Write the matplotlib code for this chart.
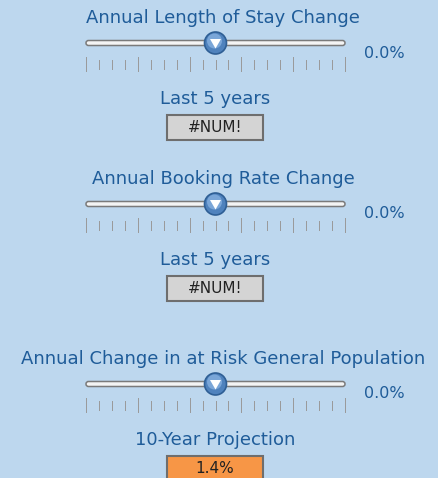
import matplotlib.pyplot as plt
from matplotlib.patches import FancyBboxPatch, Rectangle, Circle, Polygon

# slider panels
titles = ["Annual Length of Stay Change", "Annual Booking Rate Change",
          "Annual Change in at Risk General Population"]
slider_values = [0.0, 0.0, 0.0]          # percent shown right of slider
thumb_pos = [0.5, 0.5, 0.5]              # relative position on slider
sub_labels = ["Last 5 years", "Last 5 years", "10-Year Projection"]
box_texts = ["#NUM!", "#NUM!", "1.4%"]
box_colors = ["#d4d4d4", "#d4d4d4", "#f79646"]

title_y = [18, 179, 359]
bg = "#bdd7ee"
txt = "#1f5c99"

fig = plt.figure(figsize=(4.38, 4.78), dpi=100, facecolor=bg)
ax = fig.add_axes([0, 0, 1, 1])
ax.set_xlim(0, 438)
ax.set_ylim(478, 0)
ax.axis('off')
ax.set_facecolor(bg)

x0, x1 = 86, 345
n_ticks = 21

for i in range(3):
    ty = title_y[i]
    ax.text(223, ty, titles[i], ha='center', va='center', fontsize=13, color=txt)

    sy = ty + 25
    # track
    ax.add_patch(FancyBboxPatch((x0, sy - 2.5), x1 - x0, 5,
                                boxstyle="round,pad=0,rounding_size=2.5",
                                fc="#f4f4f4", ec="#7a7a7a", lw=1.1, zorder=2))
    # ticks
    for k in range(n_ticks):
        tx = x0 + (x1 - x0) * k / (n_ticks - 1)
        if k % 4 == 0:
            ax.plot([tx, tx], [sy + 14, sy + 28], color="#999999", lw=0.7)
        else:
            ax.plot([tx, tx], [sy + 17, sy + 26], color="#999999", lw=0.7)
    # thumb
    cx = x0 + (x1 - x0) * thumb_pos[i]
    ax.add_patch(Circle((cx, sy), 11, fc="#4f82bd", ec="#2f5f95", lw=1.2, zorder=3))
    ax.add_patch(Circle((cx - 1, sy - 2), 7.5, fc="#7aa6d8", ec="none", zorder=3))
    ax.add_patch(Polygon([[cx - 5.5, sy - 4], [cx + 5.5, sy - 4], [cx, sy + 5.5]],
                         closed=True, fc="white", ec="none", zorder=4))

    ax.text(384, sy + 10, "%.1f%%" % slider_values[i], ha='center', va='center',
            fontsize=11.5, color=txt)

    ly = ty + 81
    ax.text(215, ly, sub_labels[i], ha='center', va='center', fontsize=13, color=txt)

    by = ly + 16
    ax.add_patch(Rectangle((167, by), 96, 25, fc=box_colors[i], ec="#6e6e6e", lw=1.5))
    ax.text(215, by + 12.5, box_texts[i], ha='center', va='center', fontsize=11, color="#222222")

fig.savefig("out.png", dpi=100, facecolor=bg)
